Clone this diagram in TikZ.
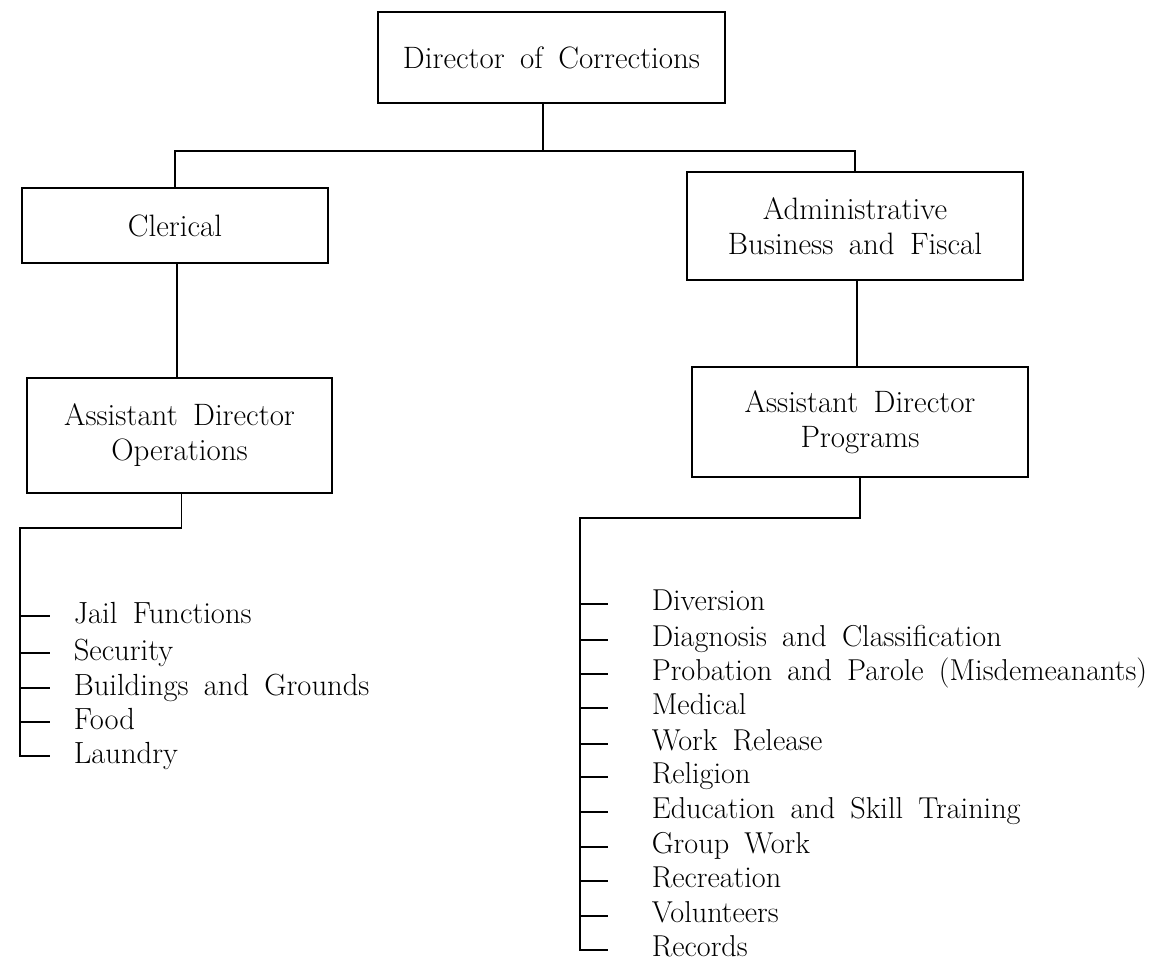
\documentclass[tikz,border=0pt]{standalone}
\usepackage{fontspec}
\usetikzlibrary{positioning,calc}
\newcommand\chartfont[1]{\fontsize{#1}{20}\selectfont\spaceskip=0.5em plus 0.1em minus 0.1em\relax}

\begin{document}
\begin{tikzpicture}[x=0.2mm,y=-0.2mm,line width=0.9pt,
	office/.style={draw,align=center,inner sep=0pt,execute at begin node={\chartfont{17.6}}},
	duty/.style={anchor=west,inner ysep=0pt,inner xsep=0.46cm,text height=9pt,text depth=0pt,execute at begin node={\chartfont{17.4}}},
	program/.style={anchor=west,inner ysep=0pt,inner xsep=0.86cm,text height=7pt,text depth=0pt,execute at begin node={\chartfont{17.2}}}]
	\useasboundingbox (0,0) rectangle (1156,963);
	\node[office,minimum width=6.94cm,minimum height=1.82cm] (dir)   at (551.5,57.5) {Director of Corrections};
	\node[office,minimum width=6.12cm,minimum height=1.50cm] (cler)  at (175,225.5)  {Clerical};
	\node[office,minimum width=6.72cm,minimum height=2.16cm] (adm)   at (855,226)    {Administrative\\Business and Fiscal};
	\node[office,minimum width=6.10cm,minimum height=2.30cm] (aops)  at (179.5,435.5) {Assistant Director\\Operations};
	\node[office,minimum width=6.72cm,minimum height=2.20cm] (aprog) at (860,422)    {Assistant Director\\Programs};
	\coordinate (cut)     at (543,151);
	\coordinate (opsbus)  at (20,528);
	\coordinate (progbus) at (580,518);
	% operations
	\node[duty] (ops1) at (50,616) {Jail Functions};
	\node[duty] (ops2) at (50,653) {Security};
	\node[duty] (ops3) at (50,688) {Buildings and Grounds};
	\node[duty] (ops4) at (50,722) {Food};
	\node[duty] (ops5) at (50,756) {Laundry};
	% programs
	\node[program] (prg1)  at (608,604) {Diversion};
	\node[program] (prg2)  at (608,640) {Diagnosis and Classification};
	\node[program] (prg3)  at (608,674) {Probation and Parole (Misdemeanants)};
	\node[program] (prg4)  at (608,708) {Medical};
	\node[program] (prg5)  at (608,744) {Work Release};
	\node[program] (prg6)  at (608,777) {Religion};
	\node[program] (prg7)  at (608,812) {Education and Skill Training};
	\node[program] (prg8)  at (608,847) {Group Work};
	\node[program] (prg9)  at (608,881) {Recreation};
	\node[program] (prg10) at (608,916) {Volunteers};
	\node[program] (prg11) at (608,950) {Records};
	\draw (dir.south -| cut) -- (cut);
	\draw (cler.north) |- (cut) -| (adm.north);
	\draw (cler.south) ++(2,0) -- (aops.north -| 177,0);
	\draw (adm.south) ++(2,0) -- (aprog.north -| 857,0);
	\draw (aops.south) ++(2,0) |- (opsbus) |- (ops5.west);
	\draw (aprog.south) |- (progbus) |- (prg11.west);
	\path
		(opsbus |- ops1) edge (ops1.west)
		(opsbus |- ops2) edge (ops2.west)
		(opsbus |- ops3) edge (ops3.west)
		(opsbus |- ops4) edge (ops4.west)
		(progbus |- prg1) edge (prg1.west)
		(progbus |- prg2) edge (prg2.west)
		(progbus |- prg3) edge (prg3.west)
		(progbus |- prg4) edge (prg4.west)
		(progbus |- prg5) edge (prg5.west)
		(progbus |- prg6) edge (prg6.west)
		(progbus |- prg7) edge (prg7.west)
		(progbus |- prg8) edge (prg8.west)
		(progbus |- prg9) edge (prg9.west)
		(progbus |- prg10) edge (prg10.west)
	; %-ticks-%
\end{tikzpicture}
\end{document}
